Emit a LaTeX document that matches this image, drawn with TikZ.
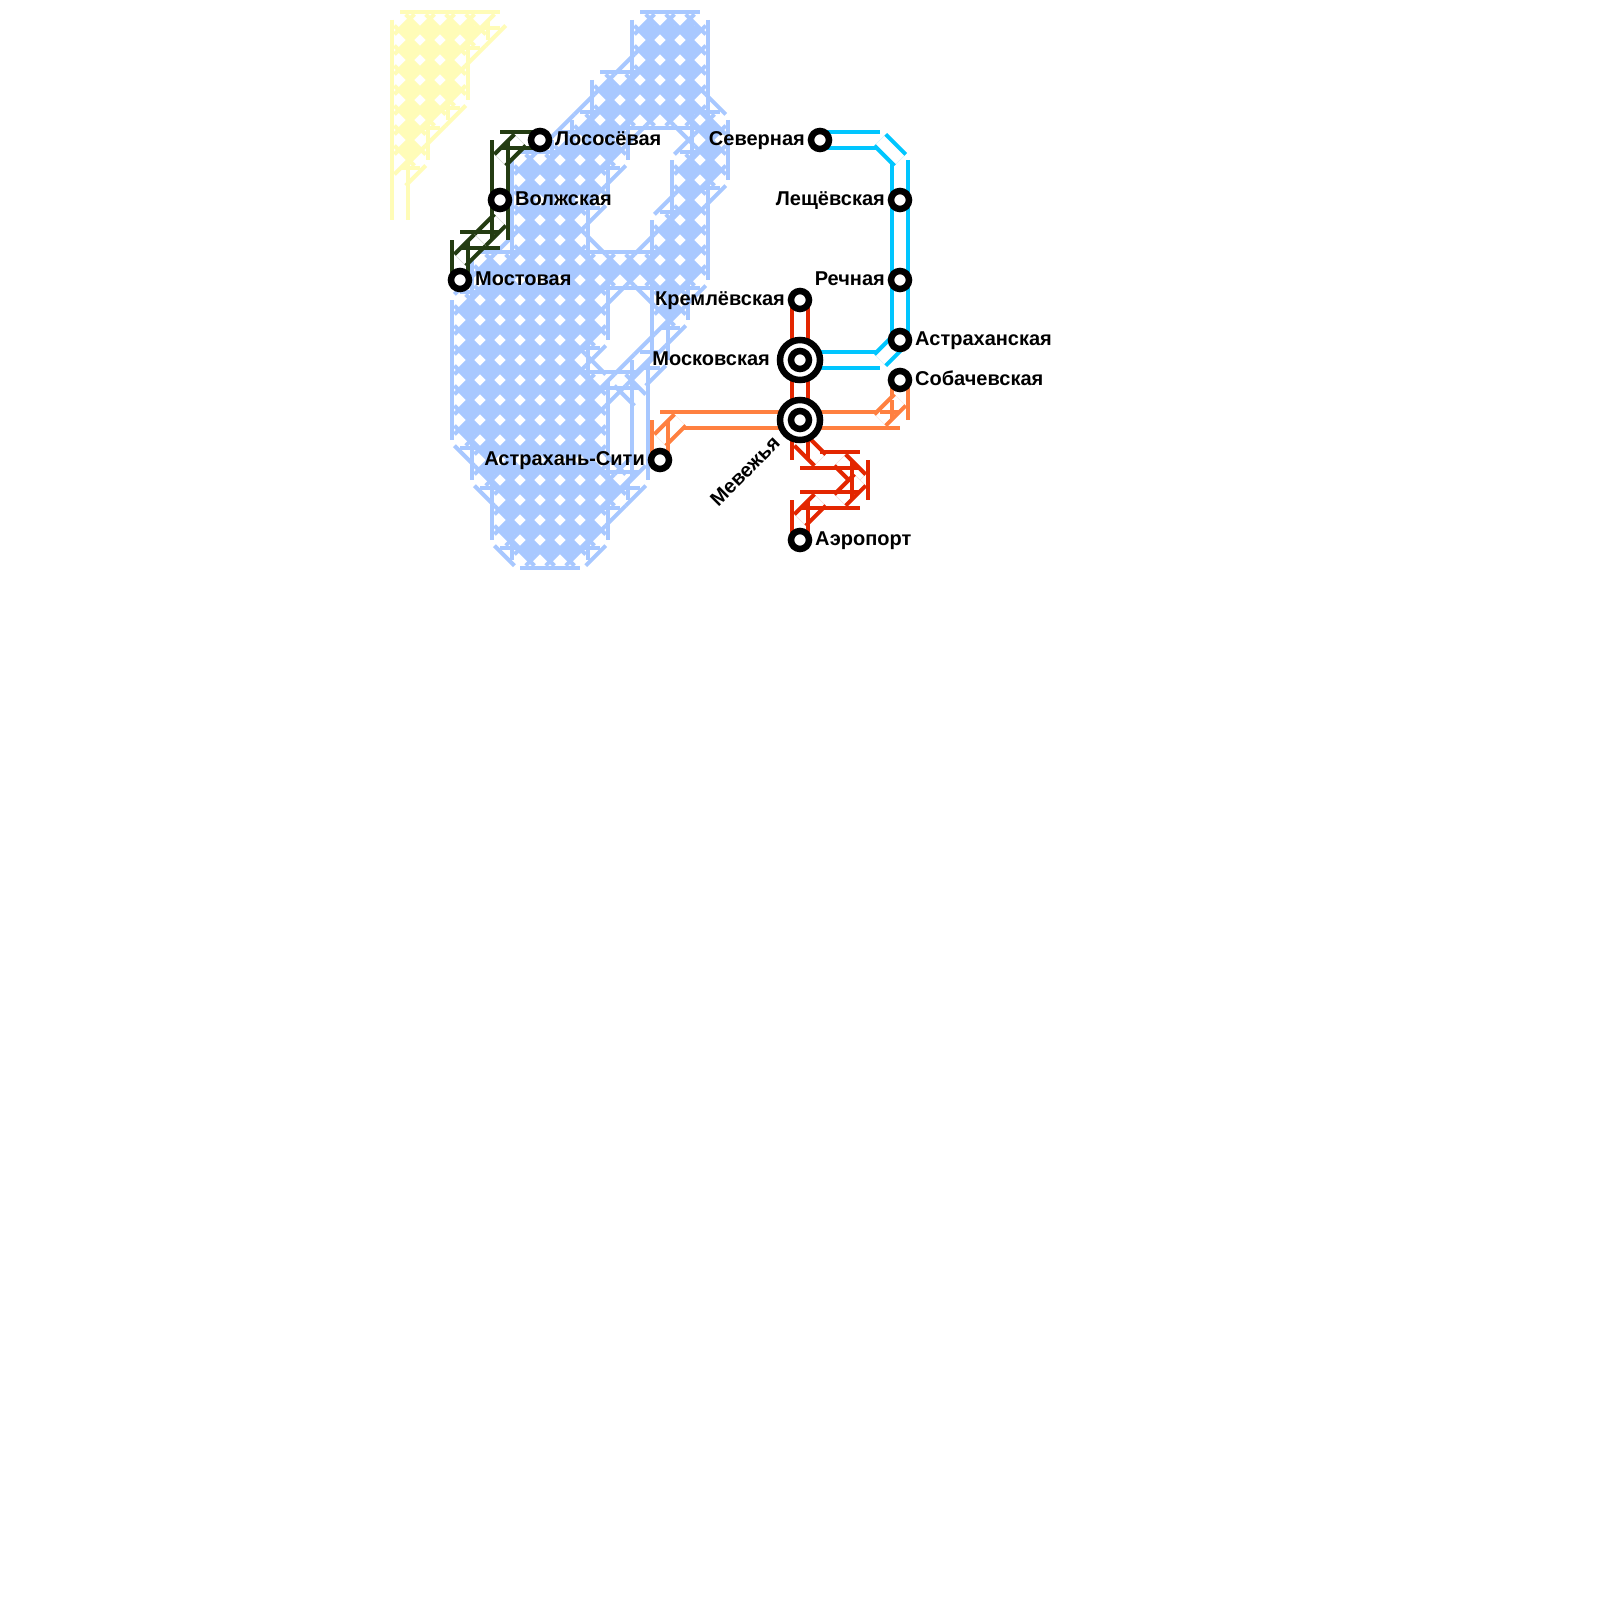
\documentclass[tikz,border=0pt]{standalone}
\usepackage{fontspec}
\setmainfont{Liberation Sans}
\definecolor{waterblue}{HTML}{A8C8FF}
\definecolor{wateryellow}{HTML}{FFFCB8}
\definecolor{linegreen}{HTML}{243C12}
\definecolor{linecyan}{HTML}{00C6FF}
\definecolor{lineorange}{HTML}{FF8040}
\definecolor{linered}{HTML}{E32600}
\tikzset{
  rail/.style={draw=#1, line width=4pt},
  station/.style={circle, draw=black, fill=white, line width=6.5pt, minimum size=18pt, inner sep=0pt},
  hub/.style={circle, draw=black, fill=white, line width=6.5pt, minimum size=40pt, inner sep=0pt},
  stname/.style={font=\fontsize{20}{24}\selectfont\bfseries, inner sep=0pt, text=black}
}
\newcommand{\watertiles}[2]{%
  \foreach \rowy/\rowa/\rowb in {#2}{
    \pgfmathtruncatemacro\rown{(\rowb-\rowa)/20}
    \foreach \rowk in {0,...,\rown}{
      \pgfmathtruncatemacro\cellx{\rowa+20*\rowk}
      \expandafter\gdef\csname tile-\cellx-\rowy\endcsname{}
    }
  }
  \foreach \rowy/\rowa/\rowb in {#2}{
    \pgfmathtruncatemacro\rown{(\rowb-\rowa)/20}
    \foreach \rowk in {0,...,\rown}{
      \pgfmathtruncatemacro\cellx{\rowa+20*\rowk}
      \pgfmathtruncatemacro\celle{\cellx+20}
      \pgfmathtruncatemacro\cellw{\cellx-20}
      \pgfmathtruncatemacro\cells{\rowy+20}
      \ifcsname tile-\celle-\rowy\endcsname
        \draw[rail=#1] (\cellx,\rowy-8) -- (\celle,\rowy-8) (\cellx,\rowy+8) -- (\celle,\rowy+8);
      \fi
      \ifcsname tile-\cellx-\cells\endcsname
        \draw[rail=#1] (\cellx-8,\rowy) -- (\cellx-8,\cells) (\cellx+8,\rowy) -- (\cellx+8,\cells);
      \fi
      \ifcsname tile-\celle-\cells\endcsname
        \draw[rail=#1] (\cellx+5.66,\rowy-5.66) -- (\celle+5.66,\cells-5.66) (\cellx-5.66,\rowy+5.66) -- (\celle-5.66,\cells+5.66);
      \fi
      \ifcsname tile-\cellw-\cells\endcsname
        \draw[rail=#1] (\cellx-5.66,\rowy-5.66) -- (\cellw-5.66,\cells-5.66) (\cellx+5.66,\rowy+5.66) -- (\cellw+5.66,\cells+5.66);
      \fi
    }
  }
}
\newcommand{\straightrails}[2]{%
  \foreach \xa/\ya/\xb/\yb in {#2}{
    \pgfmathsetmacro\offx{\ya==\yb ? 0 : 8}
    \pgfmathsetmacro\offy{\ya==\yb ? 8 : 0}
    \draw[rail=#1] (\xa-\offx,\ya-\offy) -- (\xb-\offx,\yb-\offy) (\xa+\offx,\ya+\offy) -- (\xb+\offx,\yb+\offy);
  }
}
\newcommand{\diagrails}[2]{%
  \foreach \xa/\ya/\xb/\yb in {#2}{
    \pgfmathsetmacro\offx{(\yb-\ya)/20*5.66}
    \pgfmathsetmacro\offy{(\xa-\xb)/20*5.66}
    \filldraw[fill=white, draw=#1!18, line width=0.4pt] (\xa+\offx,\ya+\offy) -- (\xb+\offx,\yb+\offy) -- (\xb-\offx,\yb-\offy) -- (\xa-\offx,\ya-\offy) -- cycle;
    \draw[rail=#1] (\xa+\offx,\ya+\offy) -- (\xb+\offx,\yb+\offy) (\xa-\offx,\ya-\offy) -- (\xb-\offx,\yb-\offy);
  }
}
\begin{document}
\begin{tikzpicture}[x=1pt, y=-1pt]
\useasboundingbox (0,0) rectangle (1600,1600);
\fill[white] (0,0) rectangle (1600,1600);

\watertiles{wateryellow}{20/400/500, 40/400/480, 60/400/460, 80/400/460, 100/400/460, 120/400/440, 140/400/420, 160/400/420, 180/400/400, 200/400/400, 220/400/400}
\watertiles{waterblue}{20/640/700, 40/640/700, 60/640/700, 80/600/700, 100/600/700, 120/580/720, 140/560/620, 140/700/720, 160/520/620, 160/680/720, 180/520/600, 180/680/720, 200/520/600, 200/680/700, 220/520/580, 220/660/700, 240/520/580, 240/660/700, 260/480/700, 280/480/700, 300/460/600, 300/660/680, 320/460/600, 320/660/680, 340/460/600, 340/660/660, 360/460/580, 360/640/660, 380/460/640, 400/460/600, 400/640/640, 420/460/600, 420/640/640, 440/460/600, 440/640/640, 460/480/600, 460/640/640, 480/480/640, 500/500/620, 520/500/600, 540/500/600, 560/520/580}

\diagrails{linegreen}{520/140/500/160, 500/220/480/240, 480/240/460/260}
\straightrails{linegreen}{500/140/540/140, 500/140/500/240, 460/240/500/240, 460/240/460/280}

\straightrails{linecyan}{820/140/880/140, 900/160/900/340, 800/360/880/360}
\diagrails{linecyan}{880/140/900/160, 900/340/880/360}

\straightrails{lineorange}{660/420/880/420, 900/380/900/400}
\diagrails{lineorange}{680/420/660/440, 900/400/880/420}
\straightrails{lineorange}{660/420/660/460, 880/420/900/420, 900/400/900/420}

\straightrails{linered}{800/300/800/440, 800/460/820/460}
\diagrails{linered}{800/440/820/460, 840/460/860/480, 860/480/840/500, 820/500/800/520}
\straightrails{linered}{800/440/800/460, 820/460/860/460, 860/460/860/500, 800/500/860/500, 800/500/800/540}

\node[station] (lososevaya) at (540,140) {};
\node[station] (volzhskaya) at (500,200) {};
\node[station] (mostovaya) at (460,280) {};
\node[station] (severnaya) at (820,140) {};
\node[station] (leshevskaya) at (900,200) {};
\node[station] (rechnaya) at (900,280) {};
\node[station] (astrakhanskaya) at (900,340) {};
\node[station] (sobachevskaya) at (900,380) {};
\node[station] (kremlevskaya) at (800,300) {};
\node[hub] (moskovskayaHub) at (800,360) {};
\node[station] (moskovskaya) at (800,360) {};
\node[hub] (mevezhyaHub) at (800,420) {};
\node[station] (mevezhya) at (800,420) {};
\node[station] (aeroport) at (800,540) {};
\node[station] (astrakhanCity) at (660,460) {};

\node[stname, anchor=base west] (lososevayaText) at (555,145.5) {Лососёвая};
\node[stname, anchor=base west] (volzhskayaText) at (515,205.5) {Волжская};
\node[stname, anchor=base west] (mostovayaText) at (475,285.5) {Мостовая};
\node[stname, anchor=base east] (severnayaText) at (805,145.5) {Северная};
\node[stname, anchor=base east] (leshevskayaText) at (885,205.5) {Лещёвская};
\node[stname, anchor=base east] (rechnayaText) at (885,285.5) {Речная};
\node[stname, anchor=base west] (astrakhanskayaText) at (915,345.5) {Астраханская};
\node[stname, anchor=base west] (sobachevskayaText) at (915,385.5) {Собачевская};
\node[stname, anchor=base east] (kremlevskayaText) at (785,305.5) {Кремлёвская};
\node[stname, anchor=base east] (moskovskayaText) at (770,365.5) {Московская};
\node[stname, rotate=45] (mevezhyaText) at (745,471) {Мевежья};
\node[stname, anchor=base west] (aeroportText) at (815,545.5) {Аэропорт};
\node[stname, anchor=base east] (astrakhanCityText) at (645,465.5) {Астрахань-Сити};
\end{tikzpicture}
\end{document}
